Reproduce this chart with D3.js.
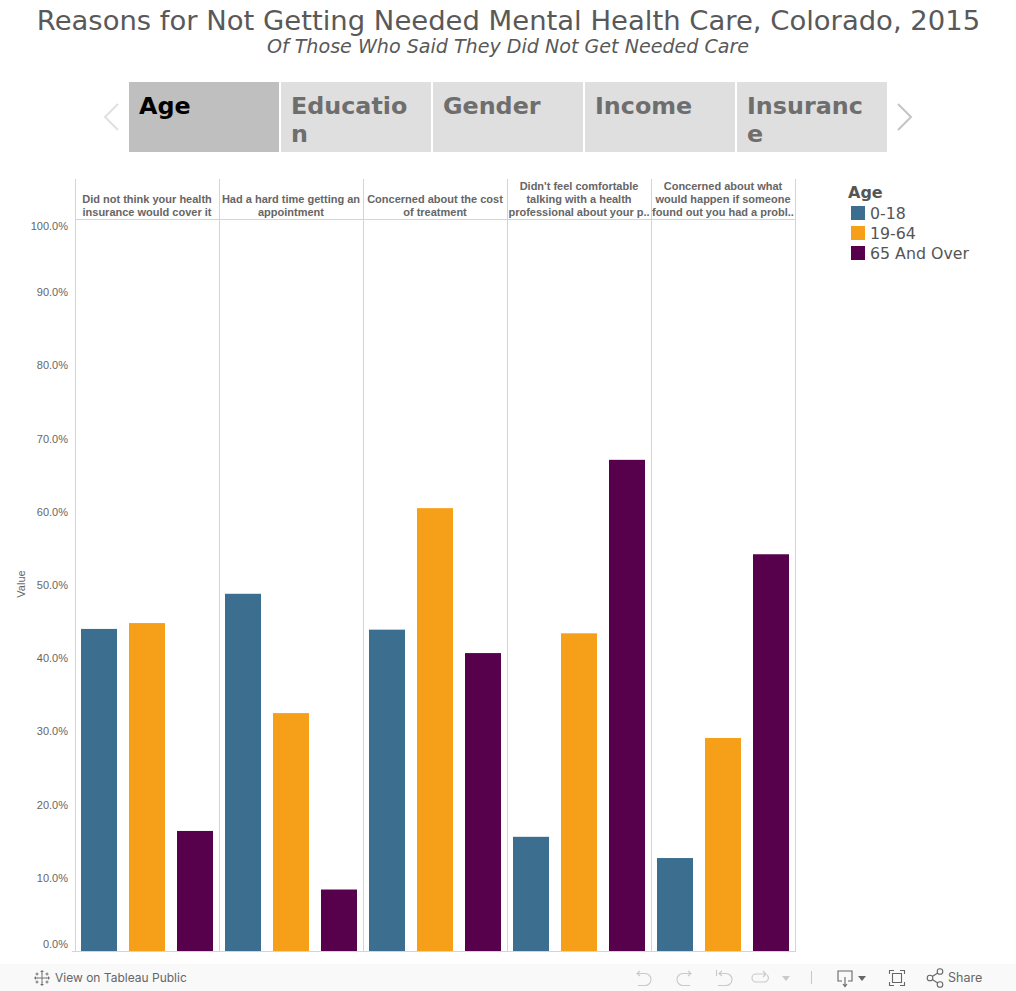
<!DOCTYPE html>
<html><head><meta charset="utf-8">
<script src="https://cdnjs.cloudflare.com/ajax/libs/d3/7.8.5/d3.min.js"></script>
<style>html,body{margin:0;padding:0;background:#fff;overflow:hidden}svg{display:block}</style>
</head><body><svg id="c" width="1016" height="991"></svg>
<script>
const titleText="Reasons for Not Getting Needed Mental Health Care, Colorado, 2015";
const subtitleText="Of Those Who Said They Did Not Get Needed Care";
const tabs=[["Age"],["Educatio","n"],["Gender"],["Income"],["Insuranc","e"]];
const reasons=["r1","r2","r3","r4","r5"];
const reasonLabels=[
 ["Did not think your health","insurance would cover it"],
 ["Had a hard time getting an","appointment"],
 ["Concerned about the cost","of treatment"],
 ["Didn't feel comfortable","talking with a health","professional about your p.."],
 ["Concerned about what","would happen if someone","found out you had a probl.."]];
const groups=["0-18","19-64","65 And Over"];
const colors=["#3b6e8f","#f6a01a","#57004b"];
const values0to18=[44.0,48.8,43.9,15.6,12.7];
const values19to64=[44.8,32.5,60.5,43.4,29.1];
const values65up=[16.4,8.4,40.7,67.1,54.2];
const series=[values0to18,values19to64,values65up];
const ticks=[0,10,20,30,40,50,60,70,80,90,100];

const svg=d3.select("#c");
const sans="'DejaVu Sans'", arial="'Liberation Sans'";
const txt=(x,y,s,o={})=>svg.append("text").attr("x",x).attr("y",y).text(s)
  .attr("font-family",o.f||sans).attr("font-size",o.s||12).attr("fill",o.c||"#555")
  .attr("font-weight",o.w||null).attr("font-style",o.i?"italic":null).attr("text-anchor",o.a||"start");

txt(508.5,29.5,titleText,{s:27.45,a:"middle",c:"#595959"});
txt(508,53,subtitleText,{s:19.1,a:"middle",i:1,c:"#595959"});

// tabs
const tabX=d3.scaleBand().domain(d3.range(tabs.length)).range([128,888]);
tabs.forEach((t,i)=>{
  const x=tabX(i)+1;
  svg.append("rect").attr("x",x).attr("y",82).attr("width",150).attr("height",70).attr("fill",i==0?"#bfbfbf":"#dfdfdf");
  t.forEach((l,j)=>txt(x+10,114+j*28,l,{s:23.8,w:"bold",c:i==0?"#000":"#6e6e6e"}));
});
const chev=(pts,c)=>svg.append("polyline").attr("points",pts).attr("fill","none").attr("stroke",c).attr("stroke-width",2);
chev("118,104 105,117 118,130","#e0e0e0");
chev("898,104 911,117 898,130","#c4c4c4");

// chart
const x0=d3.scaleBand().domain(reasons).range([75,795]);
const x1=d3.scaleBand().domain(groups).range([0,x0.bandwidth()]).paddingInner(.25).paddingOuter(.125);
const y=d3.scaleLinear().domain([0,100]).range([951,219]);
const line="#d4d4d4";
reasons.forEach((r,i)=>{
  groups.forEach((g,k)=>{
    svg.append("rect").attr("x",x0(r)+x1(g)).attr("y",y(series[k][i]))
      .attr("width",x1.bandwidth()).attr("height",y(0)-y(series[k][i])).attr("fill",colors[k]);
  });
  const cx=x0(r)+x0.bandwidth()/2, L=reasonLabels[i];
  L.forEach((l,j)=>txt(cx,216-(L.length-j-1)*13,l,{f:arial,s:11,w:"bold",a:"middle",c:"#666"}));
});
[...reasons.map(r=>x0(r)),795].forEach(v=>svg.append("line").attr("x1",v+.5).attr("x2",v+.5).attr("y1",179).attr("y2",951).attr("stroke",line));
svg.append("line").attr("x1",75).attr("x2",796).attr("y1",219.5).attr("y2",219.5).attr("stroke",line);
svg.append("line").attr("x1",72).attr("x2",796).attr("y1",951.5).attr("y2",951.5).attr("stroke",line);
ticks.forEach(t=>{
  const p=t==0?y(t)-7:t==100?y(t)+7:y(t);
  txt(68,p+4,t.toFixed(1)+"%",{f:arial,s:11,a:"end",c:"#666"});
});
svg.append("text").attr("transform","translate(25,584) rotate(-90)").attr("text-anchor","middle")
  .attr("font-family",arial).attr("font-size",11).attr("fill","#666").text("Value");

// legend
txt(848,198,"Age",{s:16,w:"bold"});
groups.forEach((g,i)=>{
  svg.append("rect").attr("x",851).attr("y",206+i*20).attr("width",14).attr("height",14).attr("fill",colors[i]);
  txt(870,218.5+i*20,g,{s:15.8});
});

// toolbar
svg.append("rect").attr("x",0).attr("y",964).attr("width",1016).attr("height",27).attr("fill","#f9f9f9");
txt(55,982,"View on Tableau Public",{f:"Inter",s:12,c:"#666"});
txt(948,982,"Share",{f:"Inter",s:12.5,c:"#666"});
const ic=(d,c,w)=>svg.append("path").attr("d",d).attr("fill","none").attr("stroke",c).attr("stroke-width",w||1.1);
// tableau logo
ic("M42,973V983M37,978H47M42,970V973.5M40.5,971.5H43.5M42,982.5V986M40.5,984.5H43.5M34,978H37.5M35.5,976.5V979.5M46.5,978H50M48.5,976.5V979.5M37,972.5V975.5M35.5,974H38.5M47,972.5V975.5M45.5,974H48.5M37,980.5V983.5M35.5,982H38.5M47,980.5V983.5M45.5,982H48.5","#666",.9);
// undo/redo
const g1="#c9c9c9";
ic("M640,971L637,973.5L640,976M637,973.5H645A6,6 0 0 1 645,985.5H638",g1);
ic("M688,971L691,973.5L688,976M691,973.5H683A6,6 0 0 0 683,985.5H690",g1);
ic("M716.5,970V976M722,971L719,973.5L722,976M719,973.5H726A6,6 0 0 1 726,985.5H718",g1);
ic("M763,971L766,974L763,977M766,974H756A4,4 0 0 0 756,982H764A4,4 0 0 0 767,975",g1);
svg.append("path").attr("d","M782,976H790L786,981Z").attr("fill",g1);
ic("M811.5,971V984",g1);
ic("M842,981H838V971H852V981H848M845,977V986M843,984L845,986.5L847,984","#666");
svg.append("path").attr("d","M858,976H866L862,981Z").attr("fill","#666");
ic("M889.5,974V970.5H894M900,970.5H904.5V974M889.5,982V985.5H894M900,985.5H904.5V982M892.5,973.5H901.5V982.5H892.5Z","#666");
ic("M930,978L940,971.5M930,978L940,984.5","#666");
[[930,978],[940,971.5],[940,984.5]].forEach(p=>svg.append("circle").attr("cx",p[0]).attr("cy",p[1]).attr("r",2.8).attr("fill","#f9f9f9").attr("stroke","#666").attr("stroke-width",1.1));
</script></body></html>
